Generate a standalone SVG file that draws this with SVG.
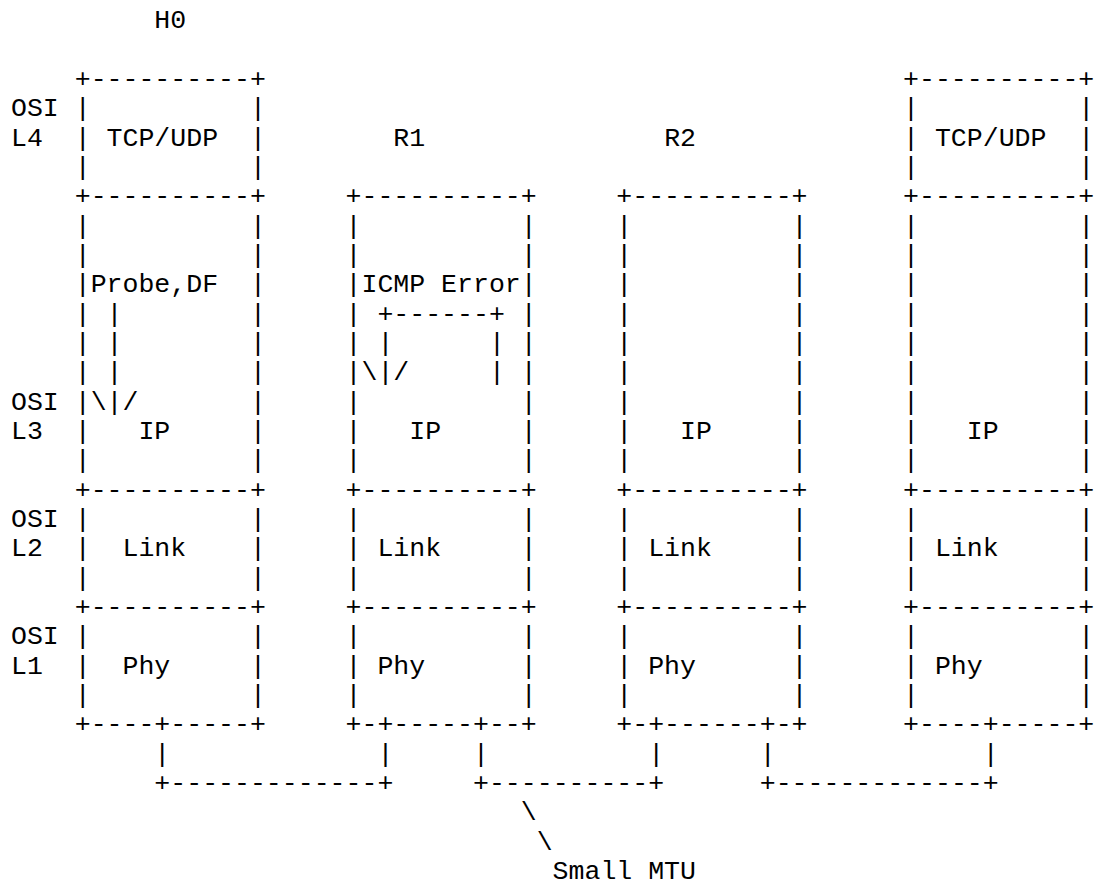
<svg xmlns="http://www.w3.org/2000/svg" width="1095" height="885" viewBox="0 0 1095 885" xml:space="preserve">
<style>
text { font-family: "Liberation Mono", "Courier New", monospace; font-size: 26.55px; fill: #000; white-space: pre; }
</style>
<rect width="1095" height="885" fill="#fff"/>
<g id="layer-labels">
<text x="11" y="116.4">OSI</text>
<text x="11" y="145.7">L4</text>
<text x="11" y="409.7">OSI</text>
<text x="11" y="439.0">L3</text>
<text x="11" y="527.0">OSI</text>
<text x="11" y="556.3">L2</text>
<text x="11" y="644.3">OSI</text>
<text x="11" y="673.7">L1</text>
</g>
<g id="node-H0">
<text x="154.37" y="28.4">H0</text>
<text x="74.72" y="87.1">+----------+</text>
<text x="74.72" y="116.4">|          |</text>
<text x="74.72" y="145.7">| TCP/UDP  |</text>
<text x="74.72" y="175.1">|          |</text>
<text x="74.72" y="204.4">+----------+</text>
<text x="74.72" y="233.7">|          |</text>
<text x="74.72" y="263.0">|          |</text>
<text x="74.72" y="292.4">|Probe,DF  |</text>
<text x="74.72" y="321.7">| |        |</text>
<text x="74.72" y="351.0">| |        |</text>
<text x="74.72" y="380.4">| |        |</text>
<text x="74.72" y="409.7">|\|/       |</text>
<text x="74.72" y="439.0">|   IP     |</text>
<text x="74.72" y="468.4">|          |</text>
<text x="74.72" y="497.7">+----------+</text>
<text x="74.72" y="527.0">|          |</text>
<text x="74.72" y="556.3">|  Link    |</text>
<text x="74.72" y="585.7">|          |</text>
<text x="74.72" y="615.0">+----------+</text>
<text x="74.72" y="644.3">|          |</text>
<text x="74.72" y="673.7">|  Phy     |</text>
<text x="74.72" y="703.0">|          |</text>
<text x="74.72" y="732.3">+----+-----+</text>
</g>
<g id="node-R1">
<text x="393.32" y="145.7">R1</text>
<text x="345.53" y="204.4">+----------+</text>
<text x="345.53" y="233.7">|          |</text>
<text x="345.53" y="263.0">|          |</text>
<text x="345.53" y="292.4">|ICMP Error|</text>
<text x="345.53" y="321.7">| +------+ |</text>
<text x="345.53" y="351.0">| |      | |</text>
<text x="345.53" y="380.4">|\|/     | |</text>
<text x="345.53" y="409.7">|          |</text>
<text x="345.53" y="439.0">|   IP     |</text>
<text x="345.53" y="468.4">|          |</text>
<text x="345.53" y="497.7">+----------+</text>
<text x="345.53" y="527.0">|          |</text>
<text x="345.53" y="556.3">| Link     |</text>
<text x="345.53" y="585.7">|          |</text>
<text x="345.53" y="615.0">+----------+</text>
<text x="345.53" y="644.3">|          |</text>
<text x="345.53" y="673.7">| Phy      |</text>
<text x="345.53" y="703.0">|          |</text>
<text x="345.53" y="732.3">+-+-----+--+</text>
</g>
<g id="node-R2">
<text x="664.13" y="145.7">R2</text>
<text x="616.34" y="204.4">+----------+</text>
<text x="616.34" y="233.7">|          |</text>
<text x="616.34" y="263.0">|          |</text>
<text x="616.34" y="292.4">|          |</text>
<text x="616.34" y="321.7">|          |</text>
<text x="616.34" y="351.0">|          |</text>
<text x="616.34" y="380.4">|          |</text>
<text x="616.34" y="409.7">|          |</text>
<text x="616.34" y="439.0">|   IP     |</text>
<text x="616.34" y="468.4">|          |</text>
<text x="616.34" y="497.7">+----------+</text>
<text x="616.34" y="527.0">|          |</text>
<text x="616.34" y="556.3">| Link     |</text>
<text x="616.34" y="585.7">|          |</text>
<text x="616.34" y="615.0">+----------+</text>
<text x="616.34" y="644.3">|          |</text>
<text x="616.34" y="673.7">| Phy      |</text>
<text x="616.34" y="703.0">|          |</text>
<text x="616.34" y="732.3">+-+------+-+</text>
</g>
<g id="node-H1">
<text x="903.08" y="87.1">+----------+</text>
<text x="903.08" y="116.4">|          |</text>
<text x="903.08" y="145.7">| TCP/UDP  |</text>
<text x="903.08" y="175.1">|          |</text>
<text x="903.08" y="204.4">+----------+</text>
<text x="903.08" y="233.7">|          |</text>
<text x="903.08" y="263.0">|          |</text>
<text x="903.08" y="292.4">|          |</text>
<text x="903.08" y="321.7">|          |</text>
<text x="903.08" y="351.0">|          |</text>
<text x="903.08" y="380.4">|          |</text>
<text x="903.08" y="409.7">|          |</text>
<text x="903.08" y="439.0">|   IP     |</text>
<text x="903.08" y="468.4">|          |</text>
<text x="903.08" y="497.7">+----------+</text>
<text x="903.08" y="527.0">|          |</text>
<text x="903.08" y="556.3">| Link     |</text>
<text x="903.08" y="585.7">|          |</text>
<text x="903.08" y="615.0">+----------+</text>
<text x="903.08" y="644.3">|          |</text>
<text x="903.08" y="673.7">| Phy      |</text>
<text x="903.08" y="703.0">|          |</text>
<text x="903.08" y="732.3">+----+-----+</text>
</g>
<g id="connectors">
<text x="154.37" y="761.7">|             |     |          |      |             |</text>
<text x="154.37" y="791.0">+-------------+     +----------+      +-------------+</text>
<text x="520.76" y="820.3">\</text>
<text x="536.69" y="849.6">\</text>
</g>
<g id="annotation">
<text x="552.62" y="879.0">Small MTU</text>
</g>
</svg>
